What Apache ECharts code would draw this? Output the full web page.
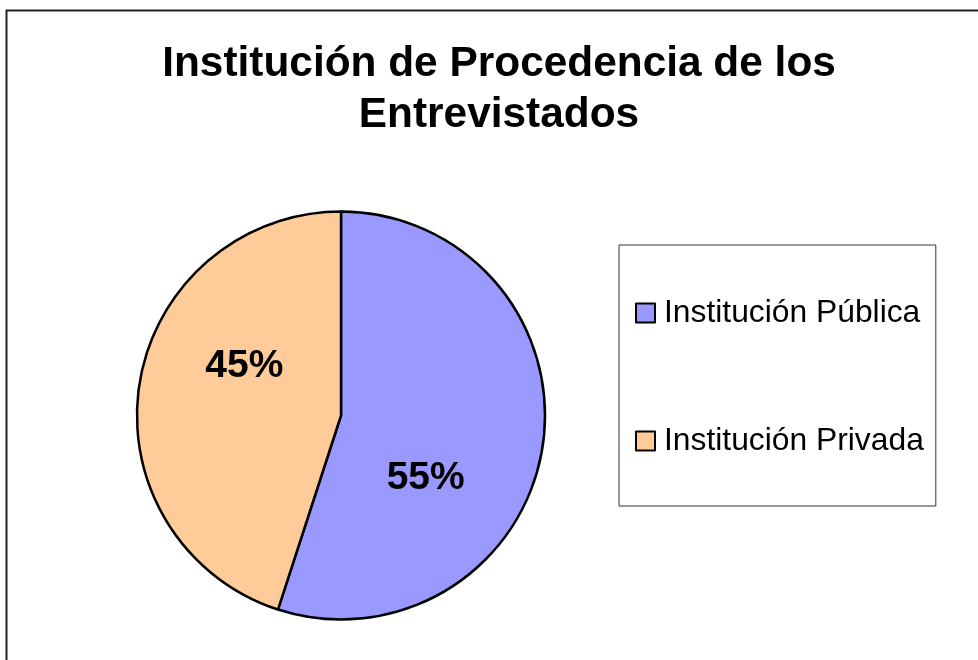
<!DOCTYPE html>
<html>
<head>
<meta charset="utf-8">
<title>Institución de Procedencia</title>
<script src="https://cdn.jsdelivr.net/npm/echarts@6/dist/echarts.min.js"></script>
<style>
  html, body { margin: 0; padding: 0; background: #fff; }
  #chart { width: 978px; height: 660px; }
</style>
</head>
<body>
<div id="chart"></div>
<script type="text/javascript">
// datos del grafico
var categorias = ['Institución Pública', 'Institución Privada'];
var valores = [55, 45];
var colores = ['#9999FF', '#FFCC99'];

// desplazamiento de las etiquetas (como en el original de Excel)
var etiquetaDx = [-19, 7];
var etiquetaDy = [46, -33];

var fuente = 'Arial, "Liberation Sans", sans-serif';

var datos = [];
for (var i = 0; i < categorias.length; i++) {
  datos.push({ name: categorias[i], value: valores[i], itemStyle: { color: colores[i] } });
}

var myChart = echarts.init(document.getElementById('chart'));
myChart.setOption({
  animation: false,
  backgroundColor: '#fff',
  title: {
    text: 'Institución de Procedencia de los\nEntrevistados',
    left: 494,
    top: 34,
    textAlign: 'center',
    textStyle: {
      fontFamily: fuente,
      fontSize: 42.4,
      fontWeight: 'bold',
      color: '#000',
      lineHeight: 51
    }
  },
  legend: {
    orient: 'vertical',
    left: 619,
    top: 245,
    padding: [52, 12, 49, 16],
    itemGap: 96,
    itemWidth: 19,
    itemHeight: 19,
    icon: 'rect',
    borderColor: '#333',
    borderWidth: 1,
    textStyle: {
      fontFamily: fuente,
      fontSize: 31.8,
      color: '#000',
      lineHeight: 32,
      padding: [0, 0, 0, 4]
    },
    data: categorias
  },
  graphic: [{
    type: 'rect',
    shape: { x: 6.5, y: 10.5, width: 1000, height: 700 },
    style: { fill: null, stroke: '#222', lineWidth: 2 },
    silent: true
  }],
  series: [{
    type: 'pie',
    center: [341, 415.5],
    radius: 204,
    startAngle: 90,
    clockwise: true,
    itemStyle: { borderColor: '#000', borderWidth: 2.5 },
    emphasis: { disabled: true },
    label: {
      position: 'inside',
      formatter: '{d}%',
      fontFamily: fuente,
      fontSize: 39,
      fontWeight: 'bold',
      color: '#000'
    },
    labelLayout: function (params) {
      return { dx: etiquetaDx[params.dataIndex], dy: etiquetaDy[params.dataIndex] };
    },
    data: datos
  }]
});
</script>
</body>
</html>
